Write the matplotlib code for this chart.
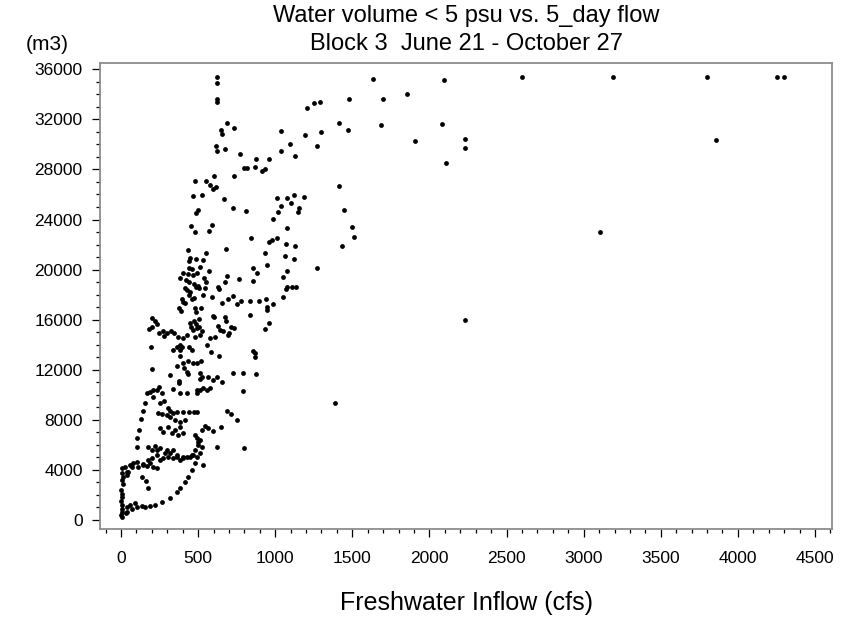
import matplotlib
matplotlib.use("Agg")
import matplotlib.pyplot as plt
from matplotlib.ticker import MultipleLocator

plt.rcParams["font.family"] = ["Liberation Sans", "DejaVu Sans"]

# high-flow / top of the cloud
flow_top = [624, 624, 624, 620, 689, 646, 657, 731, 614, 624, 676, 774, 797, 815,
            605, 731, 480, 551, 579, 599, 618, 467, 525, 668,
            1634, 1476, 1701, 1204, 1253, 1290, 1414, 1474, 1686, 1040, 1191, 1297,
            1096, 1271, 1037, 1130, 873, 958, 867, 916, 932, 1411, 1010, 1078, 1124, 1187,
            2092, 1852, 2600, 3192, 3800, 4254, 4299, 2079, 1904, 2231, 2231, 2105, 3860,
            3106, 2232, 858, 869, 869, 875, 1390]
vol_top = [35360, 34884, 33606, 33414, 31737, 31154, 30834, 31313, 29899, 29476, 29612, 29236, 28142, 28142,
           27455, 27503, 27104, 27056, 26736, 26465, 26576, 25905, 25985, 25618,
           35227, 33654, 33654, 32935, 33310, 33414, 31689, 31154, 31553, 31050, 30754, 30970,
           30035, 29899, 29476, 29100, 28861, 28861, 28222, 27878, 28038, 26704, 25698, 25746, 25986, 25826,
           35148, 34029, 35363, 35387, 35411, 35411, 35387, 31633, 30251, 30435, 29692, 28518, 30355,
           22982, 15978, 13524, 13316, 12996, 11662, 9316]

# 800-1500 cfs, 15000-25000 m3
flow_mid = [1446, 1498, 1511, 1433, 1271, 1100, 1037, 1018, 1156, 1150, 984, 1074, 841, 962,
            981, 1013, 1070, 1130, 932, 1061, 1122, 949, 858, 884, 858, 1078, 1050, 1068,
            1078, 1107, 1133, 1048, 836, 897, 940, 988, 949, 949, 836, 960, 936]
vol_mid = [24739, 23429, 22630, 21863, 20154, 25298, 25083, 24627, 24899, 24579, 24044, 23349, 22550, 22207,
           22367, 22550, 22071, 21863, 21352, 21113, 20873, 20346, 20130, 19707, 19116, 19866, 19411, 18428,
           18588, 18636, 18612, 17838, 17494, 17518, 17630, 17278, 16991, 16775, 16376, 15761, 15281]

# 150-820 cfs, 14000-25000 m3
flow_upper = [728, 808, 499, 488, 454, 478, 588, 573, 434, 549, 679, 445, 443, 488, 530,
              512, 443, 460, 569, 404, 436, 465, 491, 383, 421, 443, 538, 551, 475, 497,
              689, 672, 765, 417, 430, 447, 488, 504, 547, 631, 637, 439, 460, 473, 530,
              592, 653, 692, 724, 754, 778, 394, 404, 413, 378, 391, 480, 517, 484, 599,
              603, 674, 681, 713, 700, 735, 199, 220, 203, 235, 184, 248, 274, 281, 296,
              324, 344, 368, 447, 456, 475, 486, 504, 467, 491, 508, 523, 512, 480, 631,
              642, 663, 696, 404, 426, 577, 609]
vol_upper = [24923, 24707, 24763, 24500, 23509, 23030, 23541, 23086, 21544, 21304, 21672, 20905, 20665, 20873, 20745,
             20210, 20106, 20026, 19914, 19707, 19651, 19571, 19707, 19307, 19172, 19012, 19307, 19036, 18852, 18716,
             19467, 18988, 19251, 18557, 18373, 18237, 18636, 18508, 18533, 18588, 18453, 17997, 17678, 17734, 17949,
             17790, 17358, 17630, 17918, 17231, 17518, 17654, 17438, 17310, 16911, 16719, 16959, 16911, 16591, 16320,
             16192, 16192, 15921, 15441, 14913, 15337, 16112, 15921, 15441, 15633, 15233, 14962, 15098, 14698, 14962,
             15098, 14913, 14642, 15713, 15441, 15921, 15633, 16032, 15178, 15337, 15441, 15098, 14778, 14642, 15497,
             15178, 15098, 14778, 14514, 14778, 14514, 14642]

# 0-800 cfs, 2500-14000 m3
flow_low = [192, 335, 365, 383, 383, 397, 443, 458, 556, 584, 637, 381, 203, 361, 400, 410, 436, 469,
            491, 519, 426, 432, 318, 376, 376, 512, 523, 512, 566, 599, 621, 655, 728, 789, 789,
            167, 188, 209, 231, 248, 209, 266, 335, 383, 430, 491, 491, 512, 534, 556, 577,
            156, 253, 281, 141, 242, 264, 303, 318, 339, 361, 404, 443, 491, 473, 685, 711, 754,
            130, 296, 318, 350, 383, 415, 523, 545, 566, 599, 646, 119, 253, 274, 307, 329, 350,
            383, 404, 372, 480, 491, 501, 512, 501, 523, 480, 624, 797, 106, 102, 177, 199, 220,
            231, 253, 296, 318, 339, 361, 383, 404, 426, 458, 491, 512, 534, 5, 5, 15, 5, 11,
            26, 58, 80, 102, 37, 145, 167, 188, 209, 231]
vol_low = [13795, 13580, 13795, 13979, 13580, 13795, 13795, 13580, 13979, 13444, 13101, 13101, 12038, 12302, 12517, 12118, 12725, 12517,
           12566, 12725, 11847, 11663, 11583, 11104, 10968, 11719, 11447, 11240, 11447, 11184, 11447, 11000, 11719, 11719, 10329,
           10121, 10249, 10385, 10385, 10648, 9850, 10169, 10441, 10169, 10169, 10385, 10121, 10385, 10521, 10385, 10521,
           9370, 9370, 9506, 8707, 8572, 8468, 8923, 8731, 8572, 8651, 8651, 8651, 8651, 8651, 8731, 8468, 7988,
           8068, 8388, 8204, 7988, 7853, 7988, 7190, 7509, 7325, 7134, 7453, 7190, 7325, 7054, 7453, 6974, 7190,
           7405, 6926, 6790, 6790, 6526, 6255, 6391, 5991, 5856, 5592, 5808, 5728, 6526, 5856, 5856, 5592, 5912,
           5592, 5728, 5592, 5328, 4928, 5193, 4793, 4928, 5057, 5193, 5057, 5328, 4394, 4129, 3730, 3459, 3196, 2876,
           4258, 4394, 4529, 4657, 3858, 4474, 4314, 4577, 4258, 4129]

# near the origin
flow_base = [3, 4, 5, 3, 5, 4, 6, 3, 5, 30, 37, 69, 102, 134, 37, 58, 91,
             156, 188, 220, 264, 318, 361, 383, 415, 436, 458, 480,
             37, 48, 69, 112, 145, 177, 199, 231, 253, 274, 285, 307, 339, 361, 404, 447, 469,
             138, 160, 177]
vol_base = [2400, 2100, 1800, 1500, 1200, 900, 650, 400, 250, 550, 663, 855, 1014, 1120, 1014, 1198, 1334,
            1014, 1120, 1200, 1462, 1733, 2261, 2532, 3059, 3459, 3994, 4529,
            3595, 3858, 4258, 4258, 4394, 4793, 4928, 5193, 4793, 4928, 5328, 5057, 5592, 5057, 5057, 5057, 5193,
            3459, 3139, 2532]

flow = flow_top + flow_mid + flow_upper + flow_low + flow_base
volume = vol_top + vol_mid + vol_upper + vol_low + vol_base

W, H = 856, 623
fig = plt.figure(figsize=(W / 100, H / 100), dpi=100)
ax = fig.add_axes([100 / W, 1 - 529 / H, 732 / W, 466 / H])

ax.scatter(flow, volume, s=12, c="black", linewidths=0, zorder=3)

ax.set_xlim(-136, 4610)
ax.set_ylim(-719, 36503)
ax.set_xticks(range(0, 4501, 500))
ax.set_yticks(range(0, 36001, 4000))
ax.xaxis.set_minor_locator(MultipleLocator(100))
ax.yaxis.set_minor_locator(MultipleLocator(1000))
ax.tick_params(which="major", length=5.5, width=0.9, labelsize=12.5, color="black")
ax.tick_params(which="minor", length=3, width=0.9, color="black")
ax.tick_params(axis="x", which="major", pad=10)
ax.tick_params(axis="y", which="major", pad=7)

for sp in ax.spines.values():
    sp.set_color("#8c8c8c")
    sp.set_linewidth(1.3)

fig.text(466 / W, 1 - 16 / H, "Water volume < 5 psu vs. 5_day flow", ha="center", va="center", fontsize=17)
fig.text(466 / W, 1 - 44 / H, "Block 3  June 21 - October 27", ha="center", va="center", fontsize=17)
fig.text(69 / W, 1 - 44 / H, "(m3)", ha="right", va="center", fontsize=15)
fig.text(466 / W, 1 - 603 / H, "Freshwater Inflow (cfs)", ha="center", va="center", fontsize=18)

fig.savefig("out.png", dpi=100, facecolor="white")
